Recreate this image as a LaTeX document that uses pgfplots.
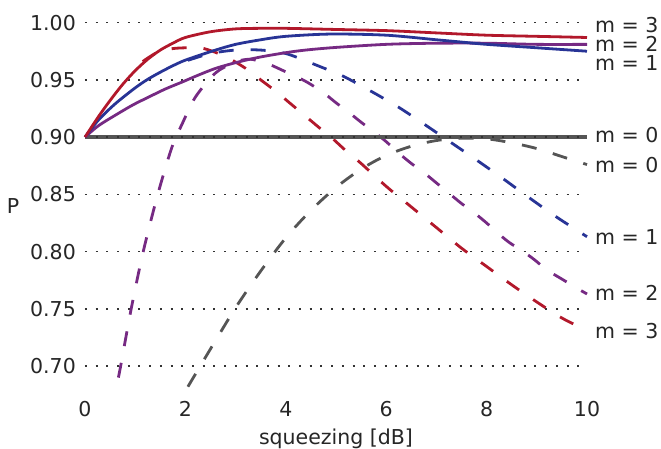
\documentclass[border=0pt]{standalone}
\usepackage{pgfplots}
\pgfplotsset{compat=1.18}
\usepackage{fontspec}
\setmainfont{DejaVu Sans}
\definecolor{cred}{RGB}{178,24,43}
\definecolor{cblue}{RGB}{40,52,150}
\definecolor{cpurple}{RGB}{118,42,131}
\definecolor{cgrey}{RGB}{85,85,85}
\definecolor{ctext}{RGB}{38,38,38}
\begin{document}
\fontsize{20.5bp}{24bp}\selectfont
\begin{tikzpicture}
\useasboundingbox (-85bp,-60bp) rectangle (576bp,389bp);
\begin{axis}[
  at={(0,0)}, anchor=south west,
  scale only axis, width=502bp, height=366.4bp,
  xmin=0, xmax=10, ymin=0.68, ymax=1.0,
  axis line style={draw=none},
  major tick length=0pt,
  xtick={0,2,4,6,8,10},
  ytick={0.70,0.75,0.80,0.85,0.90,0.95,1.00},
  /pgf/number format/assume math mode=true,
  yticklabel style={/pgf/number format/fixed, /pgf/number format/fixed zerofill, /pgf/number format/precision=2, anchor=east, inner sep=0pt, xshift=-9bp, text=ctext},
  xticklabel style={anchor=base, inner sep=0pt, yshift=-27bp, text=ctext},
  ymajorgrids,
  grid style={black!80, line width=1.5bp, dash pattern=on 2bp off 8.7bp},
  every axis x label/.style={at={(axis description cs:0.5,0)}, anchor=base, yshift=-55.5bp, text=ctext},
  every axis y label/.style={at={(axis description cs:0,0.5)}, anchor=center, xshift=-72bp, text=ctext},
  xlabel={squeezing [dB]}, ylabel={P},
  clip=false,
  every axis plot/.append style={line width=2.8bp, line join=round},
]
% dashed curves
\addplot[cgrey, smooth, tension=0.5, dash pattern=on 15bp off 17bp] coordinates {
(2.05,0.682) (2.5,0.715) (3.0,0.751) (3.5,0.783) (4.0,0.812) (4.5,0.836)
(5.0,0.856) (5.5,0.872) (6.0,0.884) (6.5,0.892) (7.0,0.897) (7.5,0.899)
(8.0,0.8985) (8.5,0.895) (9.0,0.890) (9.5,0.883) (10,0.876)};
\addplot[cpurple, smooth, tension=0.5, dash pattern=on 15bp off 17bp] coordinates {
(0.665,0.690) (0.71,0.700) (0.92,0.750) (1.16,0.800) (1.45,0.850) (1.73,0.891)
(1.93,0.911) (2.2,0.935) (2.6,0.956) (2.92,0.964) (3.1,0.967) (3.3,0.968)
(3.5,0.966) (3.7,0.963) (3.95,0.958) (4.25,0.952) (4.5,0.946) (4.8,0.937)
(5.0,0.930) (5.3,0.920) (5.5,0.913) (5.8,0.903) (6.0,0.896) (6.25,0.886)
(6.5,0.877) (6.75,0.869) (7.0,0.860) (7.25,0.851) (7.5,0.842) (7.75,0.834)
(8.0,0.825) (8.2,0.817) (8.45,0.808) (8.7,0.801) (8.95,0.793) (9.2,0.784)
(9.5,0.776) (9.8,0.768) (10,0.763)};
\addplot[cblue, smooth, tension=0.5, dash pattern=on 15bp off 17bp] coordinates {
(2.05,0.967) (2.5,0.973) (3.0,0.976) (3.5,0.976) (4.0,0.973) (4.6,0.963)
(5.15,0.953) (5.7,0.940) (6.25,0.926) (6.8,0.910) (7.3,0.895) (7.8,0.880)
(8.35,0.863) (8.85,0.847) (9.4,0.830) (10,0.813)};
\addplot[cred, smooth, tension=0.5, dash pattern=on 15bp off 17bp] coordinates {
(1.15,0.966) (1.4,0.973) (1.7,0.977) (2.0,0.978) (2.3,0.978) (2.6,0.974)
(2.9,0.968) (3.2,0.960) (3.5,0.950) (3.8,0.940) (4.1,0.929) (4.4,0.918)
(4.7,0.907) (4.9,0.900) (5.2,0.888) (5.5,0.877) (6.0,0.857) (6.5,0.839)
(7.0,0.821) (7.5,0.803) (8.0,0.787) (8.5,0.771) (9.0,0.756) (9.5,0.742)
(10,0.731)};
% solid curves
\addplot[cgrey, line width=3.2bp] coordinates {(0,0.9) (10,0.9)};
\addplot[black!80, line width=1.5bp, dash pattern=on 2bp off 8.7bp] coordinates {(0,0.9) (10,0.9)};
\addplot[cpurple, smooth, tension=0.5] coordinates {
(0,0.900) (0.27,0.910) (0.6,0.919) (0.95,0.928) (1.27,0.935) (1.6,0.942)
(1.93,0.948) (2.25,0.954) (2.6,0.960) (3.0,0.965) (3.5,0.970) (4.2,0.975)
(4.9,0.978) (6.0,0.981) (7.0,0.982) (8.0,0.982) (9.0,0.981) (10,0.981)};
\addplot[cblue, smooth, tension=0.5] coordinates {
(0,0.900) (0.27,0.915) (0.6,0.929) (1.0,0.943) (1.27,0.951) (1.6,0.959)
(1.93,0.966) (2.25,0.971) (2.6,0.976) (3.0,0.981) (3.5,0.985) (4.0,0.988)
(4.9,0.990) (6.0,0.989) (7.0,0.985) (7.5,0.983) (8.0,0.981) (9.0,0.978) (10,0.975)};
\addplot[cred, smooth, tension=0.5] coordinates {
(0,0.900) (0.27,0.918) (0.5,0.932) (0.75,0.946) (1.0,0.958) (1.25,0.968)
(1.5,0.976) (1.75,0.982) (2.0,0.987) (2.5,0.992) (3.0,0.9945) (3.5,0.995)
(4.0,0.995) (5.0,0.994) (6.0,0.993) (7.0,0.991) (8.0,0.989) (9.0,0.988) (10,0.987)};
% right-hand labels
\begin{scope}[every node/.style={anchor=west, inner sep=0pt, xshift=8bp, text=ctext}]
\node at (axis cs:10,0.9983) {m = 3};
\node at (axis cs:10,0.9817) {m = 2};
\node at (axis cs:10,0.9650) {m = 1};
\node at (axis cs:10,0.9020) {m = 0};
\node at (axis cs:10,0.8760) {m = 0};
\node at (axis cs:10,0.8130) {m = 1};
\node at (axis cs:10,0.7640) {m = 2};
\node at (axis cs:10,0.7310) {m = 3};
\end{scope}
\end{axis}
\end{tikzpicture}
\end{document}
